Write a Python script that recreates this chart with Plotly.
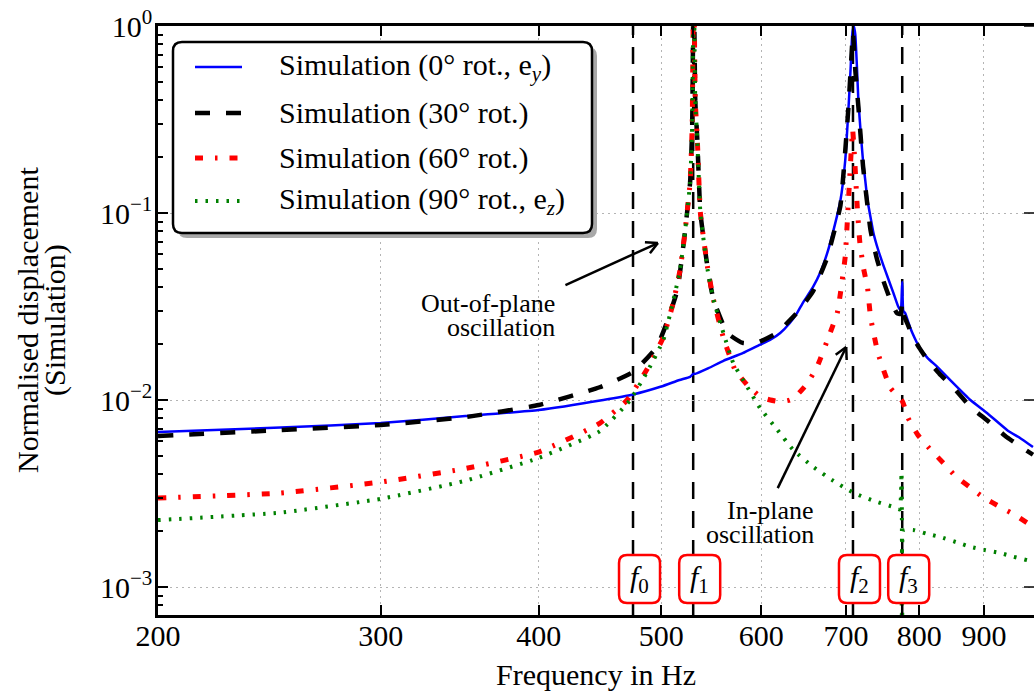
import math
import plotly.graph_objects as go

# ---------------------------------------------------------------------------
# Normalised displacement versus excitation frequency for four rotations
# ---------------------------------------------------------------------------
freq_rot0 = [200, 250, 300, 350, 400, 450, 475, 500, 517, 527, 530, 532, 545,
             560, 580, 598, 610, 621, 632, 640, 647, 659, 668, 676, 684, 693,
             699, 703, 706, 708, 710, 712, 714, 716, 719, 722, 725, 728, 732,
             736, 742, 749, 756, 763, 770, 773.5, 775.5, 777, 780, 785, 790,
             800, 812, 827, 851, 878, 905, 939, 961, 984]
disp_rot0 = [0.00674, 0.00712, 0.00753, 0.0082, 0.00884, 0.0100, 0.0107, 0.0118,
             0.0128, 0.0133, 0.0138, 0.0138, 0.0148, 0.0162, 0.0178, 0.0197,
             0.0210, 0.0228, 0.0258, 0.0290, 0.0330, 0.0400, 0.0480, 0.0600,
             0.0800, 0.117, 0.19, 0.35, 0.60, 0.90, 1.0, 0.90, 0.62, 0.40,
             0.27, 0.192, 0.150, 0.117, 0.095, 0.078, 0.064, 0.053, 0.0445,
             0.0375, 0.0315, 0.0300, 0.0428, 0.0300, 0.0290, 0.0255, 0.0228,
             0.0192, 0.0168, 0.0150, 0.0123, 0.0100, 0.00852, 0.0069, 0.00626,
             0.0056]

freq_rot30 = [200, 250, 300, 350, 400, 447, 475, 496, 505, 515, 522, 527, 529,
              530.5, 532, 534, 537, 544, 550, 564, 580, 595, 617, 640, 659,
              676, 693, 703, 706, 709, 712, 716, 722, 732, 740, 749, 758, 768,
              773.5, 775.5, 777.5, 784, 790, 800, 812, 830, 850, 878, 905,
              939, 984]
disp_rot30 = [0.00642, 0.0069, 0.00735, 0.0081, 0.0094, 0.0117, 0.0141, 0.0192,
              0.0258, 0.0388, 0.078, 0.145, 0.288, 2.0, 0.40, 0.246, 0.10,
              0.0514, 0.0343, 0.0228, 0.0202, 0.0202, 0.0228, 0.0292, 0.038,
              0.057, 0.11, 0.36, 0.58, 0.92, 0.58, 0.37, 0.18, 0.081, 0.058,
              0.0438, 0.0350, 0.0292, 0.0288, 0.033, 0.0285, 0.0250, 0.022,
              0.0190, 0.0164, 0.0138, 0.0118, 0.0092, 0.0078, 0.0063, 0.0051]

freq_rot60 = [200, 250, 300, 350, 400, 447, 470, 487, 502, 511, 517.5, 522, 527,
              529, 530.5, 532, 534, 537, 544, 550, 560, 572, 585, 599, 610,
              621, 632, 640, 652, 664, 680, 689, 693, 699, 703, 706, 708.5, 711,
              714.5, 718, 723, 728, 732, 742, 759, 776, 784, 798, 815, 836,
              855, 878, 900, 927, 955, 984]
disp_rot60 = [0.00299, 0.00318, 0.00364, 0.0043, 0.00527, 0.0075, 0.0100,
              0.0145, 0.0217, 0.033, 0.0496, 0.078, 0.145, 0.288, 2.0, 0.40,
              0.246, 0.10, 0.0514, 0.0343, 0.0215, 0.0145, 0.0120, 0.0104,
              0.0100, 0.0098, 0.0100, 0.0106, 0.0122, 0.0150, 0.0228, 0.0292,
              0.0373, 0.0582, 0.113, 0.19, 0.28, 0.20, 0.108, 0.069, 0.050,
              0.040, 0.0278, 0.0178, 0.0116, 0.0098, 0.0080, 0.0065, 0.0055,
              0.0046, 0.0039, 0.0034, 0.0030, 0.00268, 0.0024, 0.0021]

freq_rot90 = [200, 250, 300, 350, 400, 447, 472, 487, 502, 517, 522, 527, 529,
              530.5, 532, 534, 537, 544, 550, 560, 570, 585, 599, 617, 636, 659,
              684, 709, 735, 763, 772, 774.5, 775.8, 777.5, 791, 810, 831, 855,
              878, 900, 927, 950, 974, 984]
disp_rot90 = [0.00228, 0.00250, 0.00296, 0.0037, 0.0049, 0.0068, 0.0099, 0.014,
              0.021, 0.048, 0.078, 0.145, 0.288, 2.0, 0.40, 0.246, 0.10, 0.05,
              0.0343, 0.0228, 0.0158, 0.0117, 0.0090, 0.0070, 0.0054, 0.0044,
              0.0037, 0.0032, 0.0029, 0.00268, 0.0026, 0.0041, 0.0004, 0.0020,
              0.00202, 0.00193, 0.00185, 0.00174, 0.00164, 0.00158, 0.00152,
              0.00145, 0.00139, 0.00136]

series_names = [
    "Simulation (0° rot., e<sub><i>y</i></sub>)",
    "Simulation (30° rot.)",
    "Simulation (60° rot.)",
    "Simulation (90° rot., e<sub><i>z</i></sub>)",
]

# characteristic frequencies (Hz)
mode_labels = ["0", "1", "2", "3"]
mode_freqs = [475, 530, 709, 775.5]

x_tick_vals = [200, 300, 400, 500, 600, 700, 800, 900]
y_tick_vals = [1e-3, 1e-2, 1e-1, 1]
y_tick_text = ["10<sup>−3</sup>", "10<sup>−2</sup>", "10<sup>−1</sup>", "10<sup>0</sup>"]

# ---------------------------------------------------------------------------
# geometry
# ---------------------------------------------------------------------------
FIG_W, FIG_H = 1034, 698
M_L, M_R, M_T, M_B = 158, 0, 26, 83
PW, PH = FIG_W - M_L - M_R, FIG_H - M_T - M_B
X_RANGE = [math.log10(200), 2.9938]
Y_RANGE = [-3.1497, 0.0]
FONT = "Liberation Serif"


def paper_x(px):
    return (px - M_L) / PW


def paper_y(py):
    return (M_T + PH - py) / PH


def data_px(f, v):
    x = M_L + (math.log10(f) - X_RANGE[0]) / (X_RANGE[1] - X_RANGE[0]) * PW
    y = M_T + (Y_RANGE[1] - math.log10(v)) / (Y_RANGE[1] - Y_RANGE[0]) * PH
    return x, y


def rounded_rect(w, h, r, dx=0.0):
    x0, x1, y0, y1 = -w / 2 + dx, w / 2 + dx, -h / 2, h / 2
    return (f"M {x0 + r} {y0} L {x1 - r} {y0} Q {x1} {y0} {x1} {y0 + r} "
            f"L {x1} {y1 - r} Q {x1} {y1} {x1 - r} {y1} "
            f"L {x0 + r} {y1} Q {x0} {y1} {x0} {y1 - r} "
            f"L {x0} {y0 + r} Q {x0} {y0} {x0 + r} {y0} Z")


styles = [
    dict(color="#0000ff", width=2.5, dash="solid"),
    dict(color="#000000", width=4.5, dash="15px,16px"),
    dict(color="#ff0000", width=5, dash="8px,12px,2.5px,12px"),
    dict(color="#008000", width=4, dash="2.5px,8px"),
]

fig = go.Figure()
for fr, dv, st, nm in zip([freq_rot0, freq_rot30, freq_rot60, freq_rot90],
                          [disp_rot0, disp_rot30, disp_rot60, disp_rot90],
                          styles, series_names):
    fig.add_trace(go.Scatter(x=fr, y=dv, mode="lines", name=nm, line=st,
                             line_shape="spline", line_smoothing=0.4,
                             showlegend=False, hoverinfo="skip"))

shapes = []
annotations = []

# vertical markers at the characteristic frequencies
for f in mode_freqs:
    shapes.append(dict(type="line", xref="x", yref="paper", x0=f, x1=f, y0=0, y1=1,
                       line=dict(color="black", width=2.5, dash="17px,12px"),
                       layer="below"))

# boxed labels f0..f3, sitting slightly right of the marker lines
box_y = paper_y(579)
for f, lab in zip(mode_freqs, mode_labels):
    shapes.append(dict(type="path", xref="x", yref="paper", xsizemode="pixel",
                       ysizemode="pixel", xanchor=f, yanchor=box_y,
                       path=rounded_rect(41, 48, 8, dx=6.5),
                       line=dict(color="#ff0000", width=2.5), fillcolor="white"))
    annotations.append(dict(x=math.log10(f), y=box_y, xref="x", yref="paper",
                            xshift=6.5, text=f"<i>f</i><sub>{lab}</sub>",
                            showarrow=False, xanchor="center", yanchor="middle",
                            font=dict(family=FONT, size=30, color="black")))

# right-hand major ticks
for v in y_tick_vals:
    shapes.append(dict(type="line", xref="paper", yref="y", x0=1 - 10 / PW, x1=1,
                       y0=v, y1=v, line=dict(color="black", width=1.5)))


def arrow(tail, tip, head=13, ang=28):
    tx, ty = data_px(*tail)
    hx, hy = data_px(*tip)
    out = [dict(type="line", xref="paper", yref="paper",
                x0=paper_x(tx), y0=paper_y(ty), x1=paper_x(hx), y1=paper_y(hy),
                line=dict(color="black", width=2.5))]
    d = math.atan2(ty - hy, tx - hx)
    for s in (-1, 1):
        a = d + s * math.radians(ang)
        ex, ey = hx + head * math.cos(a), hy + head * math.sin(a)
        out.append(dict(type="line", xref="paper", yref="paper",
                        x0=paper_x(hx), y0=paper_y(hy), x1=paper_x(ex), y1=paper_y(ey),
                        line=dict(color="black", width=2.5)))
    return out


shapes += arrow((420, 0.0412), (497, 0.0691))
shapes += arrow((618.2, 0.00338), (700.3, 0.0192))

note_font = dict(family=FONT, size=26, color="black")
for txt, f, v in [("Out-of-plane", 413.6, 0.033), ("oscillation", 413.6, 0.0243),
                  ("In-plane", 662.9, 0.00258), ("oscillation", 662.9, 0.0019)]:
    annotations.append(dict(x=math.log10(f), y=math.log10(v), xref="x", yref="y",
                            text=txt, showarrow=False, xanchor="right",
                            yanchor="middle", font=note_font))

# y-axis title, two rotated lines
for txt, px in [("Normalised displacement", 27), ("(Simulation)", 55)]:
    annotations.append(dict(x=paper_x(px), y=paper_y(320), xref="paper", yref="paper",
                            text=txt, textangle=-90, showarrow=False,
                            xanchor="center", yanchor="middle",
                            font=dict(family=FONT, size=30, color="black")))

# legend box with drop shadow
lg_cx, lg_cy, lg_w, lg_h = 382.5, 137.5, 419, 191
shapes.append(dict(type="path", xref="paper", yref="paper", xsizemode="pixel",
                   ysizemode="pixel", xanchor=paper_x(lg_cx + 5), yanchor=paper_y(lg_cy + 5),
                   path=rounded_rect(lg_w, lg_h, 9), line=dict(width=0),
                   fillcolor="#a8a8a8"))
shapes.append(dict(type="path", xref="paper", yref="paper", xsizemode="pixel",
                   ysizemode="pixel", xanchor=paper_x(lg_cx), yanchor=paper_y(lg_cy),
                   path=rounded_rect(lg_w, lg_h, 9), line=dict(color="black", width=2.5),
                   fillcolor="white"))
row_y = [67, 113, 158, 201]
for ry, st, nm in zip(row_y, styles, series_names):
    shapes.append(dict(type="line", xref="paper", yref="paper",
                       x0=paper_x(195), x1=paper_x(242), y0=paper_y(ry), y1=paper_y(ry),
                       line=st))
    annotations.append(dict(x=paper_x(277), y=paper_y(ry), xref="paper", yref="paper",
                            text=nm, showarrow=False, xanchor="left", yanchor="middle",
                            font=dict(family=FONT, size=30, color="black")))

grid = dict(showgrid=True, gridcolor="#b4b4b4", gridwidth=1, griddash="2px,4px")

minor_y = [m * 10 ** e for e in (-4, -3, -2, -1) for m in range(2, 10)]

fig.update_layout(
    width=FIG_W, height=FIG_H,
    margin=dict(l=M_L, r=M_R, t=M_T, b=M_B, pad=0),
    plot_bgcolor="white", paper_bgcolor="white",
    font=dict(family=FONT, size=30, color="black"),
    showlegend=False,
    shapes=shapes, annotations=annotations,
    xaxis=dict(type="log", range=X_RANGE, tickmode="array", tickvals=x_tick_vals,
               ticktext=[str(v) for v in x_tick_vals], ticks="inside", ticklen=10,
               tickwidth=1.5, tickcolor="black", showline=True, linewidth=2.5,
               linecolor="black", mirror="ticks", zeroline=False,
               tickfont=dict(family=FONT, size=30), ticklabelstandoff=-8,
               minor=dict(tickmode="array", tickvals=mode_freqs, ticks="inside",
                          ticklen=12, tickwidth=1.5, tickcolor="black", showgrid=False),
               title=dict(text="Frequency in Hz", standoff=14,
                          font=dict(family=FONT, size=30)),
               **grid),
    yaxis=dict(type="log", range=Y_RANGE, tickmode="array", tickvals=y_tick_vals,
               ticktext=y_tick_text, ticks="inside", ticklen=10, tickwidth=1.5,
               tickcolor="black", showline=True, linewidth=2.5, linecolor="black",
               mirror=False, zeroline=False, tickfont=dict(family=FONT, size=30),
               ticklabelstandoff=-3,
               minor=dict(tickmode="array", tickvals=minor_y, ticks="inside",
                          ticklen=5, tickwidth=1.5, tickcolor="black", showgrid=False),
               **grid),
)

fig.write_html("out.html")
